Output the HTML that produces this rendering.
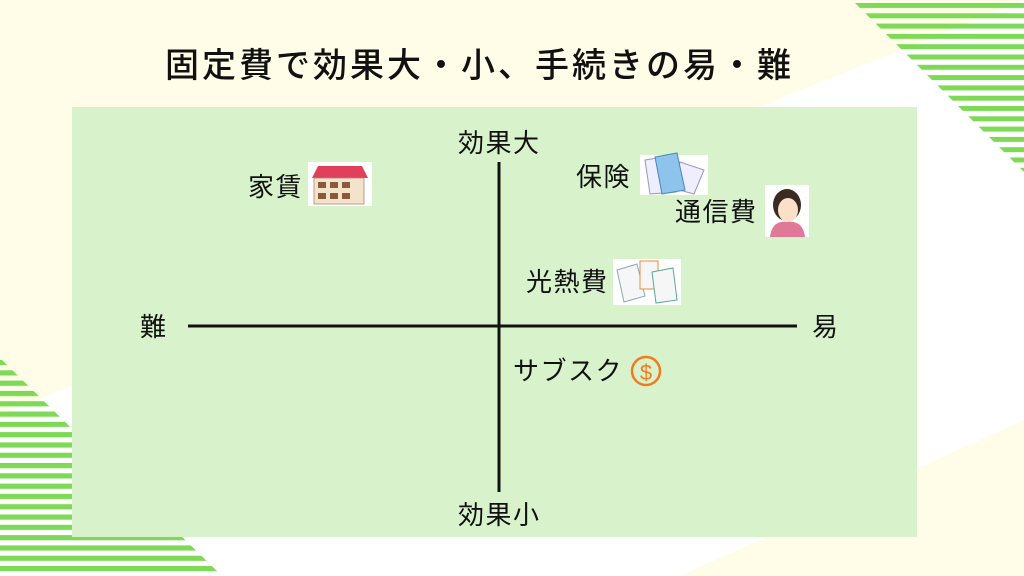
<!DOCTYPE html>
<html><head><meta charset="utf-8"><style>
body{margin:0;width:1024px;height:576px;overflow:hidden;background:#fff;font-family:"Liberation Sans","Noto Sans CJK JP",sans-serif;}
.t{position:absolute;color:#111;white-space:nowrap;line-height:1;font-size:26px;letter-spacing:1.5px}
</style></head><body>
<svg width="1024" height="576" style="position:absolute;left:0;top:0">
<defs>
<pattern id="st" width="20" height="10.3" patternUnits="userSpaceOnUse" y="3"><rect y="0" width="20" height="5" fill="#7ed957"/></pattern>
<pattern id="st2" width="20" height="10.3" patternUnits="userSpaceOnUse" y="360"><rect y="0" width="20" height="5.2" fill="#7ed957"/></pattern>
</defs>
<polygon points="0,0 1024,0 1024,0 0,415" fill="#fffde8"/>
<polygon points="680,576 1024,576 1024,420" fill="#fffde8"/>
<polygon points="855,3 1024,3 1024,172" fill="url(#st)"/>
<polygon points="0,358 0,576 222,576" fill="url(#st2)"/>
<rect x="72" y="107" width="845" height="430" fill="#d8f3cc"/>
<line x1="188" y1="326" x2="797" y2="326" stroke="#111" stroke-width="3"/>
<line x1="499" y1="162" x2="499" y2="492" stroke="#111" stroke-width="3"/>
<rect x="308" y="162" width="64" height="44" fill="#fff"/>
<polygon points="312,178 318,166 362,166 368,178" fill="#e0405a"/>
<rect x="314" y="178" width="50" height="26" fill="#f3e3c8" stroke="#a88" stroke-width="0.8"/>
<rect x="318" y="182" width="8" height="6" fill="#8b5a3c"/><rect x="330" y="182" width="8" height="6" fill="#8b5a3c"/><rect x="342" y="182" width="8" height="6" fill="#8b5a3c"/>
<rect x="318" y="193" width="8" height="6" fill="#8b5a3c"/><rect x="330" y="193" width="8" height="6" fill="#8b5a3c"/><rect x="342" y="193" width="8" height="6" fill="#8b5a3c"/>
<rect x="640" y="155" width="68" height="40" fill="#fff"/>
<polygon points="645,160 670,156 676,192 650,194" fill="#eef" stroke="#99a"/>
<polygon points="680,162 704,170 694,194 672,188" fill="#eef" stroke="#99a"/>
<polygon points="655,157 677,153 685,190 662,194" fill="#8ec4ec" stroke="#4a86b8"/>
<rect x="765" y="185" width="44" height="52" fill="#fff"/>
<ellipse cx="787" cy="205" rx="14" ry="16" fill="#3a2a22"/>
<ellipse cx="788" cy="210" rx="10" ry="12" fill="#fbe0c8"/>
<path d="M770,237 Q772,220 787,222 Q803,220 805,237Z" fill="#e07898"/>
<rect x="613" y="259" width="68" height="46" fill="#fff"/>
<polygon points="617,270 637,264 645,296 624,302" fill="#f6f6f6" stroke="#8ab"/>
<rect x="640" y="261" width="18" height="28" fill="#f6f6f6" stroke="#e88c3a"/>
<polygon points="652,272 673,268 677,300 656,303" fill="#f6f6f6" stroke="#5a9"/>
<circle cx="646" cy="371" r="14" fill="none" stroke="#f47a20" stroke-width="2.5"/>
<text x="646" y="380" text-anchor="middle" font-size="22" fill="#f47a20" font-family="Liberation Sans">$</text>
</svg>
<div class="t" style="left:165px;top:49px;font-size:34px;letter-spacing:3px;font-weight:500">固定費で効果大・小、手続きの易・難</div>
<div class="t" style="left:458px;top:130px">効果大</div>
<div class="t" style="left:458px;top:502px">効果小</div>
<div class="t" style="left:140px;top:314px">難</div>
<div class="t" style="left:812px;top:314px">易</div>
<div class="t" style="left:248px;top:174px">家賃</div>
<div class="t" style="left:576px;top:164px">保険</div>
<div class="t" style="left:675px;top:199px">通信費</div>
<div class="t" style="left:526px;top:269px">光熱費</div>
<div class="t" style="left:513px;top:358px">サブスク</div>
</body></html>
